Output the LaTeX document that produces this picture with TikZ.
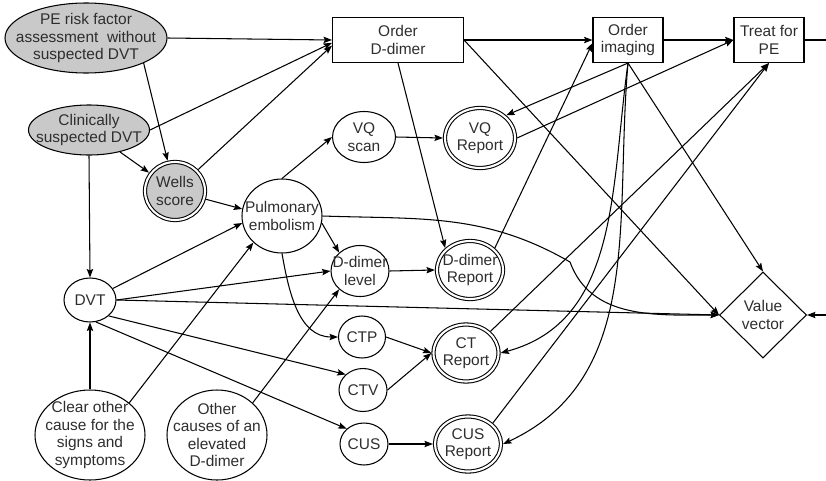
\documentclass[tikz,border=0pt]{standalone}
\usepackage{fontspec}
\setmainfont{Liberation Sans}
\usepackage{tikz}
\usetikzlibrary{positioning,arrows.meta,shapes.geometric}
\definecolor{ink}{HTML}{2E2E2E}
\definecolor{shade}{HTML}{C9C9C9}

\begin{document}
\begin{tikzpicture}[x=0.025cm,y=0.025cm,
      font=\fontsize{11}{12.5}\selectfont,
      sz/.style 2 args={minimum width=#1*0.025cm,minimum height=#2*0.025cm},
      oval/.style={ellipse,draw,line width=0.75pt,text=ink,align=center,inner sep=-30pt},
      prior/.style={oval,fill=shade},
      rep/.style={oval,double,double distance=1.5pt,outer sep=1.5pt},
      dec/.style={rectangle,draw,line width=0.75pt,text=ink,align=center,inner sep=0pt},
      util/.style={diamond,draw,line width=0.75pt,text=ink,align=center,inner sep=-30pt},
      arr/.style={-{Stealth[length=6pt,width=4.5pt,inset=1pt]},line width=0.75pt}]
    \useasboundingbox (0,0) rectangle (826,-480);
    \node[prior,sz={162}{70}] (rf) at (86,-38) {PE risk factor\\assessment~ without\\suspected DVT};
    \node[prior,sz={121}{50}] (cs) at (89,-130) {Clinically\\suspected DVT};
    \node[rep,fill=shade,sz={60}{58}] (ws) at (175,-191) {Wells\\score};
    \node[oval,sz={80}{74}] (pe) at (282,-216) {Pulmonary\\embolism};
    \node[oval,sz={52}{44}] (dvt) at (90,-300) {DVT};
    \node[oval,sz={110}{90}] (cl) at (90,-435) {Clear other\\cause for the\\signs and\\symptoms};
    \node[oval,sz={100}{90}] (oc) at (217,-435) {Other\\causes of an\\elevated\\D-dimer};
    \node[dec,sz={131}{45}] (od) at (398,-40) {Order\\D-dimer};
    \node[oval,sz={63}{51}] (vq) at (364,-137) {VQ\\scan};
    \node[rep,sz={70}{60}] (vqr) at (480,-138) {VQ\\Report};
    \node[oval,sz={58}{51}] (dd) at (360,-271) {D-dimer\\level};
    \node[rep,sz={66}{58}] (ddr) at (470,-270) {D-dimer\\Report};
    \node[oval,sz={47}{42}] (ctp) at (362,-337) {CTP};
    \node[oval,sz={48}{43}] (ctv) at (363,-390) {CTV};
    \node[oval,sz={48}{42}] (cus) at (364,-444) {CUS};
    \node[rep,sz={65}{57}] (ctr) at (466,-353) {CT\\Report};
    \node[rep,sz={66}{55}] (cusr) at (468,-444) {CUS\\Report};
    \node[dec,sz={70}{45}] (oi) at (628,-40) {Order\\imaging};
    \node[dec,sz={70}{45}] (tp) at (769,-40) {Treat for\\PE};
    \node[util,sz={87}{86}] (vv) at (763,-315) {Value\\vector};
    \coordinate (outT) at (826,-40);
    \coordinate (inV) at (826,-315);
    \coordinate (kink) at (570,-262);
    \foreach \a/\b in {rf.east/od.west,rf.south east/ws,cs/ws,cs.south/dvt.north,
        ws/pe.170,dvt/pe.190,dvt.east/dd.west,dvt.south east/ctv.north west,
        dvt.-75/cus.north west,cl.north/dvt.south,cl.north east/pe.south west,
        oc.north east/dd.south west,pe.north/vq.west,pe.-10/dd.north west,
        vq.east/vqr.west,dd.east/ddr.west,ctp.east/ctr.west,ctv.east/ctr.west,
        cus.east/cusr.west,od.south/ddr.north west,od.east/oi.west,oi.east/tp.west,
        oi.south/vqr.north east,vqr.east/tp.west,ddr.north east/oi.185,
        ctr.north east/tp.south,cusr.north east/tp.south,oi.south/vv.north,
        od.east/vv.west,dvt.east/vv.west,inV/vv.east}
      \draw[arr] (\a) -- (\b);
    \draw[arr] (cs.east) -- ([yshift=-2pt]od.west);
    \draw[arr] (ws) -- ([yshift=-4pt]od.west);
    \draw[line width=0.75pt] (tp.east) -- (outT);
    \draw[arr] (pe.south) to[out=-80,in=180] (ctp.west);
    \draw[arr] (pe.east) to[out=-2,in=150] (kink) to[out=-70,in=180] (vv.west);
    \draw[arr] (oi.south) to[out=-98,in=15] (ctr.east);
    \draw[arr] (oi.south) to[out=-95,in=25] (cusr.east);
  \end{tikzpicture}
\end{document}
